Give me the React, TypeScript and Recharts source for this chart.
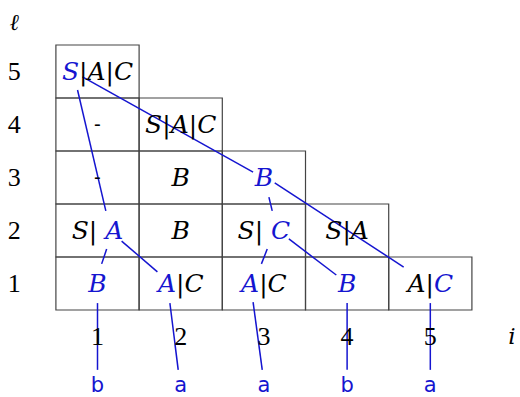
import React from "react";
import {
  ComposedChart,
  XAxis,
  YAxis,
  Scatter,
  ReferenceArea,
  ReferenceLine,
} from "recharts";

// CYK table: column i (start position), row l (span length)
const cellCols = [1, 1, 2, 1, 2, 3, 1, 2, 3, 4, 1, 2, 3, 4, 5];
const cellRows = [5, 4, 4, 3, 3, 3, 2, 2, 2, 2, 1, 1, 1, 1, 1];
const cellTexts = [
  "S|A|C", "-", "S|A|C", "-", "B", "B", "S| A", "B", "S| C", "S|A",
  "B", "A|C", "A|C", "B", "A|C",
];
// index of the character drawn in blue (-1 = none)
const cellMarked = [0, -1, -1, -1, -1, 0, 3, -1, 3, -1, 0, 0, 0, 0, 2];

const colTicks = [1, 2, 3, 4, 5];
const rowTicks = [1, 2, 3, 4, 5];
const word = ["b", "a", "a", "b", "a"];

// derivation edges, [i, l] pairs
const edgeFrom = [
  [0.76, 4.65], [0.82, 4.9], [1.11, 1.65], [1.29, 1.8], [1.0, 0.63],
  [1.87, 0.63], [3.06, 2.63], [3.13, 2.9], [3.04, 1.65], [3.3, 1.84],
  [2.87, 0.65], [4.0, 0.63], [5.0, 0.63],
];
const edgeTo = [
  [1.1, 2.37], [2.87, 3.1], [1.05, 1.37], [1.72, 1.22], [1.0, -0.63],
  [1.97, -0.63], [3.1, 2.37], [4.68, 1.31], [2.97, 1.37], [3.87, 1.16],
  [2.98, -0.63], [4.0, -0.63], [5.0, -0.63],
];

const BLUE = "#1515d0";
const MATH = "DejaVu Serif";
const DIGITS = "Liberation Serif";
const SANS = "DejaVu Sans";

const cellData = cellCols.map((x, k) => ({
  x,
  y: cellRows[k],
  text: cellTexts[k],
  mark: cellMarked[k],
}));

const labelData = [
  ...colTicks.map((c) => ({ x: c, y: 0, text: String(c), font: DIGITS, italic: false })),
  ...rowTicks.map((r) => ({ x: 0, y: r, text: String(r), font: DIGITS, italic: false })),
  { x: 0, y: 5.94, text: "ℓ", font: MATH, italic: true },
  { x: 5.98, y: 0, text: "i", font: MATH, italic: true },
];

const wordData = word.map((w, k) => ({ x: k + 1, y: -0.92, text: w }));

const CellText = (p: any) => {
  const { cx, cy, payload } = p;
  const chars = payload.text.split("");
  return (
    <text
      x={cx}
      y={cy}
      textAnchor="middle"
      dominantBaseline="central"
      fontFamily={MATH}
      fontSize={payload.text === "-" ? 20 : 25}
    >
      {chars.map((ch: string, k: number) => (
        <tspan
          key={k}
          fill={k === payload.mark ? BLUE : "#000"}
          fontFamily={MATH}
          fontStyle={/[A-Z]/.test(ch) ? "italic" : "normal"}
        >
          {ch === " " ? "\u00a0" : ch}
        </tspan>
      ))}
    </text>
  );
};

const LabelText = (p: any) => {
  const { cx, cy, payload } = p;
  return (
    <text
      x={cx}
      y={cy}
      textAnchor="middle"
      dominantBaseline="central"
      fill="#000"
      fontFamily={payload.font}
      fontStyle={payload.italic ? "italic" : "normal"}
      fontSize={payload.italic ? 23 : 26}
    >
      {payload.text}
    </text>
  );
};

const WordText = (p: any) => {
  const { cx, cy, payload } = p;
  return (
    <text
      x={cx}
      y={cy}
      textAnchor="middle"
      dominantBaseline="central"
      fill={BLUE}
      fontFamily={SANS}
      fontSize={21}
    >
      {payload.text}
    </text>
  );
};

export default function App() {
  return (
    <div style={{ position: "absolute", left: 0, top: 0 }}>
      <ComposedChart
        width={520}
        height={397}
        margin={{ top: 0, right: 0, bottom: 0, left: 0 }}
      >
        <XAxis
          type="number"
          dataKey="x"
          domain={[-0.1719, 6.078]}
          allowDataOverflow
          hide
        />
        <YAxis
          type="number"
          dataKey="y"
          domain={[-1.142, 6.349]}
          allowDataOverflow
          hide
        />
        {cellData.map((c, k) => (
          <ReferenceArea
            key={"c" + k}
            x1={c.x - 0.5}
            x2={c.x + 0.5}
            y1={c.y - 0.5}
            y2={c.y + 0.5}
            fill="#fff"
            fillOpacity={0}
            stroke="#444"
            strokeWidth={1.2}
          />
        ))}
        <Scatter data={labelData} shape={LabelText} isAnimationActive={false} />
        <Scatter data={cellData} shape={CellText} isAnimationActive={false} />
        {edgeFrom.map((f, k) => (
          <ReferenceLine
            key={"e" + k}
            segment={[
              { x: f[0], y: f[1] },
              { x: edgeTo[k][0], y: edgeTo[k][1] },
            ]}
            stroke={BLUE}
            strokeWidth={1.5}
            ifOverflow="visible"
          />
        ))}
        <Scatter data={wordData} shape={WordText} isAnimationActive={false} />
      </ComposedChart>
    </div>
  );
}
